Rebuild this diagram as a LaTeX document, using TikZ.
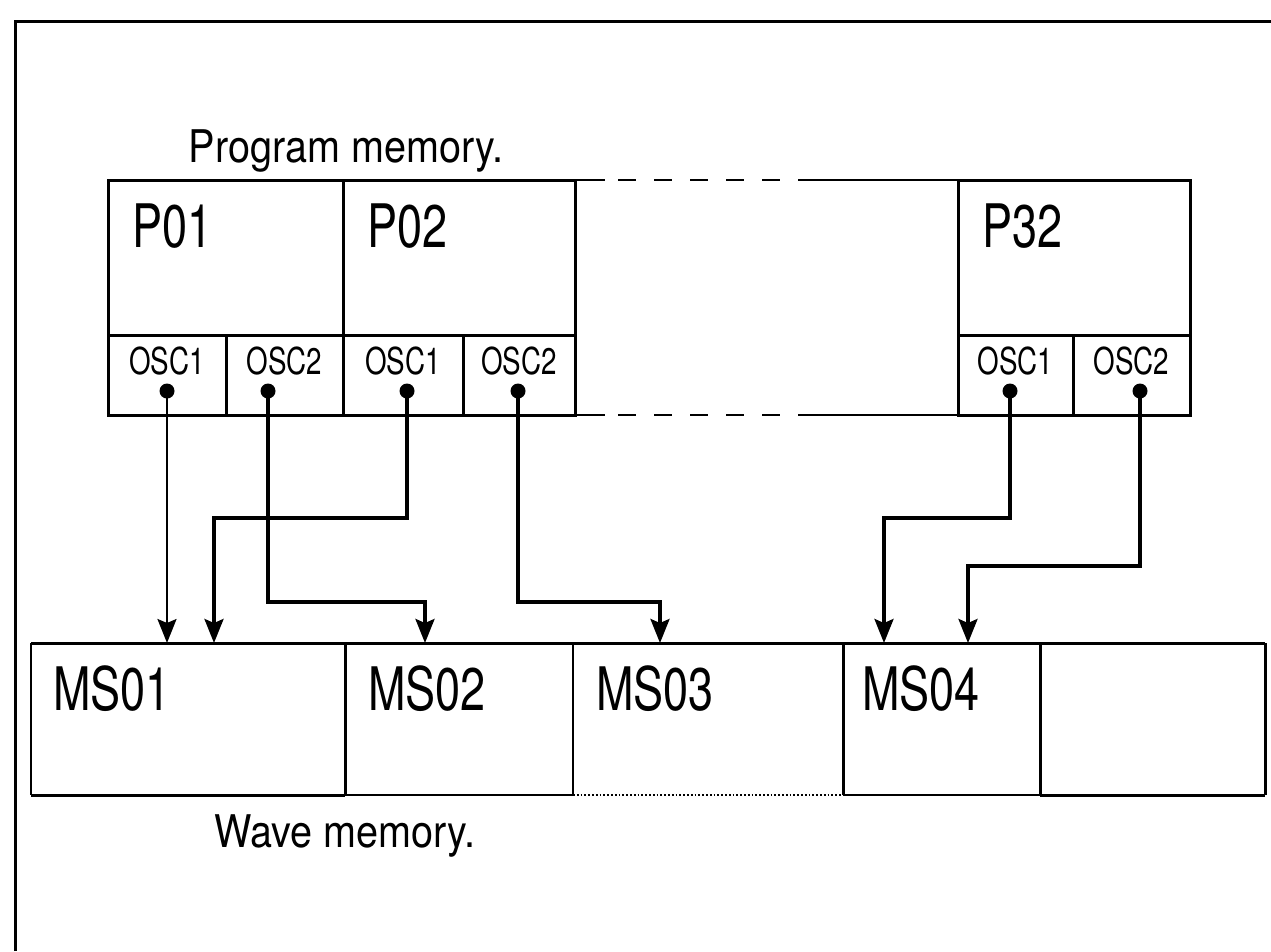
\documentclass[tikz,border=0pt]{standalone}
\usepackage{fontspec}
\setmainfont{TeX Gyre Heros}[FakeStretch=0.75]
\newfontfamily\capfont{TeX Gyre Heros}[FakeStretch=0.88]
\usetikzlibrary{arrows.meta,calc}

\begin{document}
\begin{tikzpicture}[x=1pt, y=-1pt, >={Stealth[length=24pt,width=19pt,inset=4pt]},
  every node/.style={inner sep=0pt},
  box/.style={line width=3pt},
  thinbox/.style={line width=1.8pt},
  wire/.style={line width=3.2pt},
  lbl/.style={font=\fontsize{60}{60}\selectfont, anchor=base west},
  osc/.style={font=\fontsize{37}{37}\selectfont, anchor=base},
  title/.style={font=\capfont\fontsize{45}{45}\selectfont, anchor=base}]
\useasboundingbox (0,0) rectangle (1271,951);
% frame
\draw[box] (15,951) -- (15,21) -- (1271,21);

% program memory
\node[title] (pmem) at (346,162) {Program memory.};
\draw[box] (108,180) rectangle (575,415);
\draw[box] (343,180) -- (343,415);
\draw[box] (108,335) -- (575,335);
\draw[box] (226,335) -- (226,415);
\draw[box] (463,335) -- (463,415);
\draw[box] (958,180) rectangle (1190,415);
\draw[box] (958,335) -- (1190,335);
\draw[box] (1073,335) -- (1073,415);
\foreach \y in {180,415} {
  \draw[thinbox] (575,\y) -- (605,\y);
  \draw[thinbox, dash pattern=on 18pt off 18pt, dash phase=23pt] (605,\y) -- (805,\y);
  \draw[thinbox] (805,\y) -- (958,\y);
}
\node[lbl] (p01) at (132,247) {P01};
\node[lbl] (p02) at (367,247) {P02};
\node[lbl] (p32) at (982,247) {P32};
\node[osc] (p01a) at (167,374) {OSC1};
\node[osc] (p01b) at (284.5,374) {OSC2};
\node[osc] (p02a) at (403,374) {OSC1};
\node[osc] (p02b) at (519,374) {OSC2};
\node[osc] (p32a) at (1015.5,374) {OSC1};
\node[osc] (p32b) at (1131.5,374) {OSC2};

\coordinate (p01osc1) at (167,391);
\coordinate (p01osc2) at (268,391);
\coordinate (p02osc1) at (407,391);
\coordinate (p02osc2) at (518,391);
\coordinate (p32osc1) at (1010,391);
\coordinate (p32osc2) at (1140,391);
\foreach \p in {p01osc1,p01osc2,p02osc1,p02osc2,p32osc1,p32osc2} \fill (\p) circle (7.5pt);

% wave memory
\draw[box] (31,643) -- (1265,643);
\draw[thinbox] (31,643) -- (31,795);
\draw[box] (345,643) -- (345,795);
\draw[thinbox] (573,643) -- (573,795);
\draw[box] (843,643) -- (843,795);
\draw[box] (1040,643) -- (1040,795);
\draw[box] (1265,643) -- (1265,795);
\draw[box] (31,795) -- (345,795);
\draw[thinbox] (345,795) -- (573,795);
\draw[thinbox, dotted] (573,795) -- (843,795);
\draw[thinbox] (843,795) -- (1040,795);
\draw[box] (1040,795) -- (1265,795);
\node[lbl] (ms01) at (53,710) {MS01};
\node[lbl] (ms02) at (368,710) {MS02};
\node[lbl] (ms03) at (596,710) {MS03};
\node[lbl] (ms04) at (862,710) {MS04};
\node[title] (wmem) at (345,847) {Wave memory.};

\coordinate (ms01a) at (167,643);
\coordinate (ms01b) at (214,643);
\coordinate (ms02a) at (425,643);
\coordinate (ms03a) at (660,643);
\coordinate (ms04a) at (884,643);
\coordinate (ms04b) at (968,643);

% connections
\draw[line width=2.2pt,->] (p01osc1) -- (ms01a);
\draw[wire,->] (p01osc2) -- ++(0,211) -| (ms02a);
\draw[wire,->] (p02osc1) -- ++(0,127) -| (ms01b);
\draw[wire,->] (p02osc2) -- ++(0,211) -| (ms03a);
\draw[wire,->] (p32osc1) -- ++(0,127) -| (ms04a);
\draw[wire,->] (p32osc2) -- ++(0,175) -| (ms04b);
\end{tikzpicture}
\end{document}
